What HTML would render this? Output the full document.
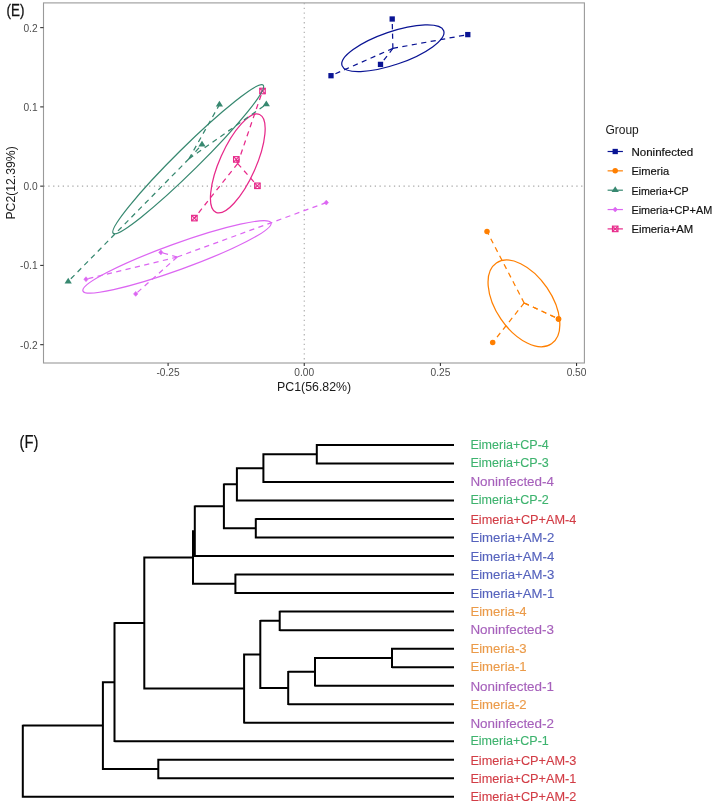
<!DOCTYPE html>
<html><head><meta charset="utf-8"><style>
html,body{margin:0;padding:0;background:#fff;}
svg{display:block;}
text{font-family:"Liberation Sans", sans-serif;}
svg{will-change:transform;}
</style></head><body>
<svg width="714" height="803" viewBox="0 0 714 803">
<rect width="714" height="803" fill="#fff"/>
<rect x="43.5" y="2.9" width="540.90" height="360.10" fill="none" stroke="#9a9a9a" stroke-width="1.1"/>
<line x1="304.25" y1="2.9" x2="304.25" y2="363.0" stroke="#a8a8a8" stroke-width="1.1" stroke-dasharray="1.3 3.5"/>
<line x1="43.5" y1="186.15" x2="584.4" y2="186.15" stroke="#a8a8a8" stroke-width="1.1" stroke-dasharray="1.3 3.5"/>
<line x1="40.2" y1="27.63" x2="43.5" y2="27.63" stroke="#333" stroke-width="1.1"/>
<text x="37.6" y="31.53" font-size="10.2" fill="#4d4d4d" text-anchor="end">0.2</text>
<line x1="40.2" y1="106.89" x2="43.5" y2="106.89" stroke="#333" stroke-width="1.1"/>
<text x="37.6" y="110.79" font-size="10.2" fill="#4d4d4d" text-anchor="end">0.1</text>
<line x1="40.2" y1="186.15" x2="43.5" y2="186.15" stroke="#333" stroke-width="1.1"/>
<text x="37.6" y="190.05" font-size="10.2" fill="#4d4d4d" text-anchor="end">0.0</text>
<line x1="40.2" y1="265.41" x2="43.5" y2="265.41" stroke="#333" stroke-width="1.1"/>
<text x="37.6" y="269.31" font-size="10.2" fill="#4d4d4d" text-anchor="end">-0.1</text>
<line x1="40.2" y1="344.67" x2="43.5" y2="344.67" stroke="#333" stroke-width="1.1"/>
<text x="37.6" y="348.57" font-size="10.2" fill="#4d4d4d" text-anchor="end">-0.2</text>
<line x1="168.10" y1="363.0" x2="168.10" y2="366.0" stroke="#333" stroke-width="1.1"/>
<text x="168.10" y="376.00" font-size="10.2" fill="#4d4d4d" text-anchor="middle">-0.25</text>
<line x1="304.25" y1="363.0" x2="304.25" y2="366.0" stroke="#333" stroke-width="1.1"/>
<text x="304.25" y="376.00" font-size="10.2" fill="#4d4d4d" text-anchor="middle">0.00</text>
<line x1="440.40" y1="363.0" x2="440.40" y2="366.0" stroke="#333" stroke-width="1.1"/>
<text x="440.40" y="376.00" font-size="10.2" fill="#4d4d4d" text-anchor="middle">0.25</text>
<line x1="576.55" y1="363.0" x2="576.55" y2="366.0" stroke="#333" stroke-width="1.1"/>
<text x="576.55" y="376.00" font-size="10.2" fill="#4d4d4d" text-anchor="middle">0.50</text>
<text x="277.0" y="390.6" font-size="12.4" fill="#1a1a1a" textLength="74.2" lengthAdjust="spacingAndGlyphs">PC1(56.82%)</text>
<text transform="translate(15.3,219.6) rotate(-90)" x="0" y="0" font-size="12.4" fill="#1a1a1a" textLength="73.4" lengthAdjust="spacingAndGlyphs">PC2(12.39%)</text>
<text x="6.6" y="15.8" font-size="16" fill="#111" stroke="#111" stroke-width="0.3" textLength="17.8" lengthAdjust="spacingAndGlyphs">(E)</text>
<rect x="389.55" y="16.35" width="5.30" height="5.30" fill="#0a1494"/>
<rect x="465.15" y="31.95" width="5.30" height="5.30" fill="#0a1494"/>
<rect x="377.85" y="61.75" width="5.30" height="5.30" fill="#0a1494"/>
<rect x="328.35" y="73.05" width="5.30" height="5.30" fill="#0a1494"/>
<circle cx="487.00" cy="231.50" r="2.75" fill="#ff7f00"/>
<circle cx="558.50" cy="318.90" r="2.75" fill="#ff7f00"/>
<circle cx="558.50" cy="318.90" r="2.75" fill="#ff7f00"/>
<circle cx="492.70" cy="342.50" r="2.75" fill="#ff7f00"/>
<polygon points="219.40,100.86 223.02,106.62 215.78,106.62" fill="#378870"/>
<polygon points="266.30,100.46 269.92,106.22 262.68,106.22" fill="#378870"/>
<polygon points="202.00,140.76 205.62,146.52 198.38,146.52" fill="#378870"/>
<polygon points="68.20,277.66 71.82,283.42 64.58,283.42" fill="#378870"/>
<polygon points="86.00,276.75 88.16,279.20 86.00,281.65 83.84,279.20" fill="#dc66f2" stroke="#dc66f2" stroke-width="0.6" stroke-linejoin="round"/>
<polygon points="135.70,291.45 137.86,293.90 135.70,296.35 133.54,293.90" fill="#dc66f2" stroke="#dc66f2" stroke-width="0.6" stroke-linejoin="round"/>
<polygon points="160.90,249.95 163.06,252.40 160.90,254.85 158.74,252.40" fill="#dc66f2" stroke="#dc66f2" stroke-width="0.6" stroke-linejoin="round"/>
<polygon points="326.30,200.15 328.46,202.60 326.30,205.05 324.14,202.60" fill="#dc66f2" stroke="#dc66f2" stroke-width="0.6" stroke-linejoin="round"/>
<g stroke="#e7298a" stroke-width="1.15" fill="none"><rect x="259.75" y="88.25" width="5.50" height="5.50"/><path d="M259.75,88.25L265.25,93.75M265.25,88.25L259.75,93.75"/></g>
<g stroke="#e7298a" stroke-width="1.15" fill="none"><rect x="233.55" y="156.65" width="5.50" height="5.50"/><path d="M233.55,156.65L239.05,162.15M239.05,156.65L233.55,162.15"/></g>
<g stroke="#e7298a" stroke-width="1.15" fill="none"><rect x="254.65" y="183.05" width="5.50" height="5.50"/><path d="M254.65,183.05L260.15,188.55M260.15,183.05L254.65,188.55"/></g>
<g stroke="#e7298a" stroke-width="1.15" fill="none"><rect x="191.65" y="215.35" width="5.50" height="5.50"/><path d="M191.65,215.35L197.15,220.85M197.15,215.35L191.65,220.85"/></g>
<ellipse cx="392.87" cy="48.19" rx="53.74" ry="16.48" transform="rotate(161.07 392.87 48.19)" fill="none" stroke="#0a1494" stroke-width="1.25"/>
<ellipse cx="523.95" cy="303.39" rx="48.89" ry="27.82" transform="rotate(55.68 523.95 303.39)" fill="none" stroke="#ff7f00" stroke-width="1.25"/>
<ellipse cx="188.20" cy="159.20" rx="105.41" ry="11.57" transform="rotate(135.34 188.20 159.20)" fill="none" stroke="#378870" stroke-width="1.25"/>
<ellipse cx="176.98" cy="256.88" rx="100.00" ry="13.02" transform="rotate(160.10 176.98 256.88)" fill="none" stroke="#dc66f2" stroke-width="1.25"/>
<ellipse cx="237.80" cy="163.40" rx="53.59" ry="18.07" transform="rotate(114.01 237.80 163.40)" fill="none" stroke="#e7298a" stroke-width="1.25"/>
<line x1="392.88" y1="48.43" x2="392.20" y2="19.00" stroke="#0a1494" stroke-width="1.25" stroke-dasharray="5.2 4.4"/>
<line x1="392.88" y1="48.43" x2="467.80" y2="34.60" stroke="#0a1494" stroke-width="1.25" stroke-dasharray="5.2 4.4"/>
<line x1="392.88" y1="48.43" x2="380.50" y2="64.40" stroke="#0a1494" stroke-width="1.25" stroke-dasharray="5.2 4.4"/>
<line x1="392.88" y1="48.43" x2="331.00" y2="75.70" stroke="#0a1494" stroke-width="1.25" stroke-dasharray="5.2 4.4"/>
<line x1="524.17" y1="302.95" x2="487.00" y2="231.50" stroke="#ff7f00" stroke-width="1.25" stroke-dasharray="5.2 4.4"/>
<line x1="524.17" y1="302.95" x2="558.50" y2="318.90" stroke="#ff7f00" stroke-width="1.25" stroke-dasharray="5.2 4.4"/>
<line x1="524.17" y1="302.95" x2="558.50" y2="318.90" stroke="#ff7f00" stroke-width="1.25" stroke-dasharray="5.2 4.4"/>
<line x1="524.17" y1="302.95" x2="492.70" y2="342.50" stroke="#ff7f00" stroke-width="1.25" stroke-dasharray="5.2 4.4"/>
<line x1="188.97" y1="158.78" x2="219.40" y2="104.70" stroke="#378870" stroke-width="1.25" stroke-dasharray="5.2 4.4"/>
<line x1="188.97" y1="158.78" x2="266.30" y2="104.30" stroke="#378870" stroke-width="1.25" stroke-dasharray="5.2 4.4"/>
<line x1="188.97" y1="158.78" x2="202.00" y2="144.60" stroke="#378870" stroke-width="1.25" stroke-dasharray="5.2 4.4"/>
<line x1="188.97" y1="158.78" x2="68.20" y2="281.50" stroke="#378870" stroke-width="1.25" stroke-dasharray="5.2 4.4"/>
<line x1="177.22" y1="257.02" x2="86.00" y2="279.20" stroke="#dc66f2" stroke-width="1.25" stroke-dasharray="5.2 4.4"/>
<line x1="177.22" y1="257.02" x2="135.70" y2="293.90" stroke="#dc66f2" stroke-width="1.25" stroke-dasharray="5.2 4.4"/>
<line x1="177.22" y1="257.02" x2="160.90" y2="252.40" stroke="#dc66f2" stroke-width="1.25" stroke-dasharray="5.2 4.4"/>
<line x1="177.22" y1="257.02" x2="326.30" y2="202.60" stroke="#dc66f2" stroke-width="1.25" stroke-dasharray="5.2 4.4"/>
<line x1="237.65" y1="163.57" x2="262.50" y2="91.00" stroke="#e7298a" stroke-width="1.25" stroke-dasharray="5.2 4.4"/>
<line x1="237.65" y1="163.57" x2="236.30" y2="159.40" stroke="#e7298a" stroke-width="1.25" stroke-dasharray="5.2 4.4"/>
<line x1="237.65" y1="163.57" x2="257.40" y2="185.80" stroke="#e7298a" stroke-width="1.25" stroke-dasharray="5.2 4.4"/>
<line x1="237.65" y1="163.57" x2="194.40" y2="218.10" stroke="#e7298a" stroke-width="1.25" stroke-dasharray="5.2 4.4"/>
<text x="605.4" y="134.0" font-size="12" fill="#1a1a1a">Group</text>
<line x1="607.6" y1="151.50" x2="622.9" y2="151.50" stroke="#0a1494" stroke-width="1.2"/>
<rect x="612.55" y="148.85" width="5.30" height="5.30" fill="#0a1494"/>
<text x="631.4" y="155.80" font-size="11" fill="#111" stroke="#111" stroke-width="0.18" textLength="61.7" lengthAdjust="spacingAndGlyphs">Noninfected</text>
<line x1="607.6" y1="170.85" x2="622.9" y2="170.85" stroke="#ff7f00" stroke-width="1.2"/>
<circle cx="615.20" cy="170.85" r="2.75" fill="#ff7f00"/>
<text x="631.4" y="175.15" font-size="11" fill="#111" stroke="#111" stroke-width="0.18" textLength="37.8" lengthAdjust="spacingAndGlyphs">Eimeria</text>
<line x1="607.6" y1="190.20" x2="622.9" y2="190.20" stroke="#378870" stroke-width="1.2"/>
<polygon points="615.20,186.36 618.82,192.12 611.58,192.12" fill="#378870"/>
<text x="631.4" y="194.50" font-size="11" fill="#111" stroke="#111" stroke-width="0.18" textLength="57.3" lengthAdjust="spacingAndGlyphs">Eimeria+CP</text>
<line x1="607.6" y1="209.55" x2="622.9" y2="209.55" stroke="#dc66f2" stroke-width="1.2"/>
<polygon points="615.20,207.10 617.36,209.55 615.20,212.00 613.04,209.55" fill="#dc66f2" stroke="#dc66f2" stroke-width="0.6" stroke-linejoin="round"/>
<text x="631.4" y="213.85" font-size="11" fill="#111" stroke="#111" stroke-width="0.18" textLength="80.8" lengthAdjust="spacingAndGlyphs">Eimeria+CP+AM</text>
<line x1="607.6" y1="228.90" x2="622.9" y2="228.90" stroke="#e7298a" stroke-width="1.2"/>
<g stroke="#e7298a" stroke-width="1.15" fill="none"><rect x="612.45" y="226.15" width="5.50" height="5.50"/><path d="M612.45,226.15L617.95,231.65M617.95,226.15L612.45,231.65"/></g>
<text x="631.4" y="233.20" font-size="11" fill="#111" stroke="#111" stroke-width="0.18" textLength="61.8" lengthAdjust="spacingAndGlyphs">Eimeria+AM</text>
<text x="19.6" y="447.6" font-size="18" fill="#111" stroke="#111" stroke-width="0.2" textLength="18.8" lengthAdjust="spacingAndGlyphs">(F)</text>
<text x="470.4" y="448.70" font-size="12.7" fill="#3db36e" stroke="#3db36e" stroke-width="0.12" textLength="78.4" lengthAdjust="spacingAndGlyphs">Eimeria+CP-4</text>
<text x="470.4" y="466.80" font-size="12.7" fill="#3db36e" stroke="#3db36e" stroke-width="0.12" textLength="78.4" lengthAdjust="spacingAndGlyphs">Eimeria+CP-3</text>
<text x="470.4" y="485.50" font-size="12.7" fill="#a660bb" stroke="#a660bb" stroke-width="0.12" textLength="83.6" lengthAdjust="spacingAndGlyphs">Noninfected-4</text>
<text x="470.4" y="503.70" font-size="12.7" fill="#3db36e" stroke="#3db36e" stroke-width="0.12" textLength="78.4" lengthAdjust="spacingAndGlyphs">Eimeria+CP-2</text>
<text x="470.4" y="523.60" font-size="12.7" fill="#d23c45" stroke="#d23c45" stroke-width="0.12" textLength="106.0" lengthAdjust="spacingAndGlyphs">Eimeria+CP+AM-4</text>
<text x="470.4" y="541.60" font-size="12.7" fill="#5562bd" stroke="#5562bd" stroke-width="0.12" textLength="83.9" lengthAdjust="spacingAndGlyphs">Eimeria+AM-2</text>
<text x="470.4" y="560.70" font-size="12.7" fill="#5562bd" stroke="#5562bd" stroke-width="0.12" textLength="83.9" lengthAdjust="spacingAndGlyphs">Eimeria+AM-4</text>
<text x="470.4" y="578.90" font-size="12.7" fill="#5562bd" stroke="#5562bd" stroke-width="0.12" textLength="83.9" lengthAdjust="spacingAndGlyphs">Eimeria+AM-3</text>
<text x="470.4" y="597.60" font-size="12.7" fill="#5562bd" stroke="#5562bd" stroke-width="0.12" textLength="83.9" lengthAdjust="spacingAndGlyphs">Eimeria+AM-1</text>
<text x="470.4" y="616.20" font-size="12.7" fill="#eb9a48" stroke="#eb9a48" stroke-width="0.12" textLength="56.2" lengthAdjust="spacingAndGlyphs">Eimeria-4</text>
<text x="470.4" y="634.00" font-size="12.7" fill="#a660bb" stroke="#a660bb" stroke-width="0.12" textLength="83.6" lengthAdjust="spacingAndGlyphs">Noninfected-3</text>
<text x="470.4" y="652.70" font-size="12.7" fill="#eb9a48" stroke="#eb9a48" stroke-width="0.12" textLength="56.2" lengthAdjust="spacingAndGlyphs">Eimeria-3</text>
<text x="470.4" y="671.00" font-size="12.7" fill="#eb9a48" stroke="#eb9a48" stroke-width="0.12" textLength="56.2" lengthAdjust="spacingAndGlyphs">Eimeria-1</text>
<text x="470.4" y="690.70" font-size="12.7" fill="#a660bb" stroke="#a660bb" stroke-width="0.12" textLength="83.6" lengthAdjust="spacingAndGlyphs">Noninfected-1</text>
<text x="470.4" y="708.60" font-size="12.7" fill="#eb9a48" stroke="#eb9a48" stroke-width="0.12" textLength="56.2" lengthAdjust="spacingAndGlyphs">Eimeria-2</text>
<text x="470.4" y="727.60" font-size="12.7" fill="#a660bb" stroke="#a660bb" stroke-width="0.12" textLength="83.6" lengthAdjust="spacingAndGlyphs">Noninfected-2</text>
<text x="470.4" y="745.40" font-size="12.7" fill="#3db36e" stroke="#3db36e" stroke-width="0.12" textLength="78.4" lengthAdjust="spacingAndGlyphs">Eimeria+CP-1</text>
<text x="470.4" y="764.70" font-size="12.7" fill="#d23c45" stroke="#d23c45" stroke-width="0.12" textLength="106.0" lengthAdjust="spacingAndGlyphs">Eimeria+CP+AM-3</text>
<text x="470.4" y="782.60" font-size="12.7" fill="#d23c45" stroke="#d23c45" stroke-width="0.12" textLength="106.0" lengthAdjust="spacingAndGlyphs">Eimeria+CP+AM-1</text>
<text x="470.4" y="800.50" font-size="12.7" fill="#d23c45" stroke="#d23c45" stroke-width="0.12" textLength="106.0" lengthAdjust="spacingAndGlyphs">Eimeria+CP+AM-2</text>
<path d="M316.80,444.10V464.41M316.80,445.00H454.00M316.80,463.51H454.00M263.40,453.36V482.93M263.40,454.26H316.80M263.40,482.03H454.00M236.90,467.24V501.44M236.90,468.14H263.40M236.90,500.54H454.00M255.80,518.15V538.47M255.80,519.05H454.00M255.80,537.57H454.00M223.90,483.44V529.21M223.90,484.34H236.90M223.90,528.31H255.80M194.80,505.42V556.98M194.80,506.32H223.90M194.80,556.08H454.00M235.40,573.69V594.00M235.40,574.59H454.00M235.40,593.10H454.00M193.00,530.30V584.75M193.00,531.20H194.80M193.00,583.85H235.40M279.70,610.72V631.03M279.70,611.62H454.00M279.70,630.13H454.00M392.00,647.74V668.06M392.00,648.64H454.00M392.00,667.16H454.00M315.00,657.00V686.57M315.00,657.90H392.00M315.00,685.67H454.00M288.20,670.88V705.08M288.20,671.78H315.00M288.20,704.18H454.00M260.30,619.97V688.88M260.30,620.87H279.70M260.30,687.98H288.20M244.10,653.53V723.60M244.10,654.43H260.30M244.10,722.70H454.00M144.30,556.62V689.46M144.30,557.52H193.00M144.30,688.56H244.10M114.50,622.14V742.11M114.50,623.04H144.30M114.50,741.21H454.00M158.30,758.82V779.13M158.30,759.72H454.00M158.30,778.23H454.00M102.90,681.23V769.88M102.90,682.13H114.50M102.90,768.98H158.30M22.80,724.65V797.65M22.80,725.55H102.90M22.80,796.75H454.00" stroke="#000" stroke-width="2.0" fill="none"/>
</svg>
</body></html>
